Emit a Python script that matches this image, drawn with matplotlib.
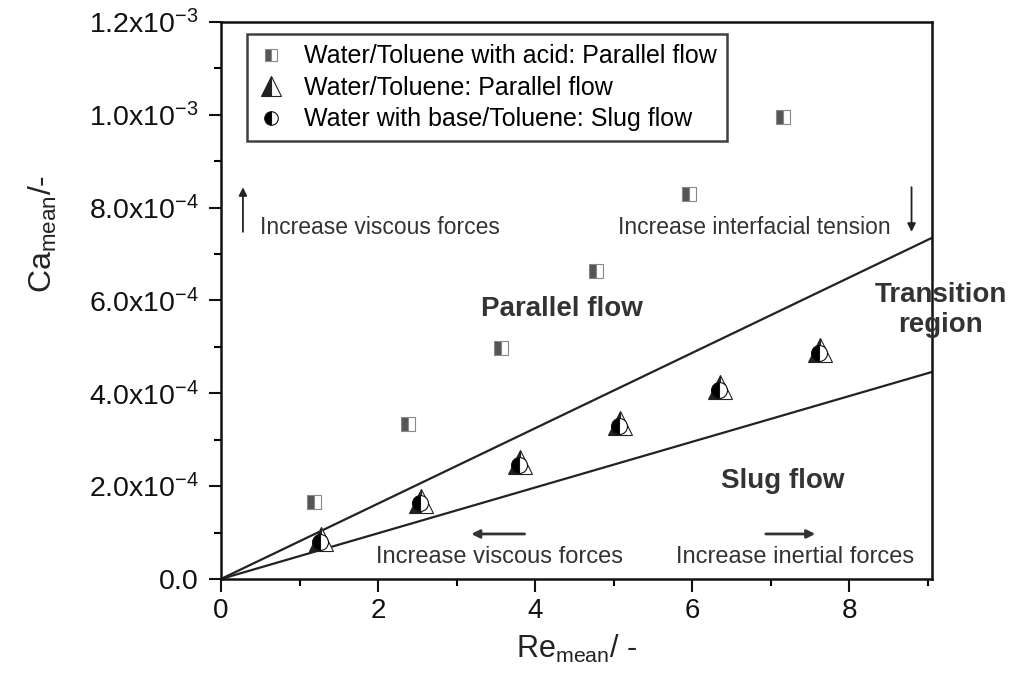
import matplotlib
matplotlib.use("Agg")
import matplotlib.pyplot as plt

plt.rcParams['font.family'] = ['Liberation Sans', 'DejaVu Sans']
plt.rcParams['mathtext.default'] = 'regular'

# data
re_acid = [1.19, 2.38, 3.57, 4.77, 5.96, 7.15]
ca_acid = [1.66e-4, 3.33e-4, 4.97e-4, 6.63e-4, 8.29e-4, 9.95e-4]

re_tol = [1.27, 2.54, 3.81, 5.08, 6.35, 7.62]
ca_tol = [0.86e-4, 1.69e-4, 2.52e-4, 3.35e-4, 4.14e-4, 4.93e-4]

re_base = [1.26, 2.53, 3.80, 5.07, 6.34, 7.61]
ca_base = [0.80e-4, 1.63e-4, 2.46e-4, 3.29e-4, 4.08e-4, 4.87e-4]

line_x = [0, 9.05]
upper_y = [0, 7.35e-4]
lower_y = [0, 4.46e-4]

yticks = [0, 2e-4, 4e-4, 6e-4, 8e-4, 1.0e-3, 1.2e-3]
ylabels = ['0.0', '2.0x10$^{-4}$', '4.0x10$^{-4}$', '6.0x10$^{-4}$',
           '8.0x10$^{-4}$', '1.0x10$^{-3}$', '1.2x10$^{-3}$']
xticks = [0, 2, 4, 6, 8]

fig = plt.figure(figsize=(10.14, 6.79), dpi=100)
ax = fig.add_axes([0.2179, 0.1473, 0.7012, 0.8203])

ax.plot(line_x, upper_y, color='#222222', lw=1.6)
ax.plot(line_x, lower_y, color='#222222', lw=1.6)

ax.plot(re_acid, ca_acid, ls='none', marker='s', ms=10.5, fillstyle='left',
        mfc='#555555', mfcalt='white', mec='#888888', mew=0.8,
        label='Water/Toluene with acid: Parallel flow')
ax.plot(re_tol, ca_tol, ls='none', marker='^', ms=17, fillstyle='left',
        mfc='#222222', mfcalt='white', mec='#222222', mew=0.8,
        label='Water/Toluene: Parallel flow')
ax.plot(re_base, ca_base, ls='none', marker='o', ms=11.5, fillstyle='left',
        mfc='black', mfcalt='white', mec='#111111', mew=0.8,
        label='Water with base/Toluene: Slug flow')

ax.set_xlim(0, 9.05)
ax.set_ylim(0, 1.2e-3)
ax.set_xticks(xticks)
ax.set_xticks([1, 3, 5, 7, 9], minor=True)
ax.set_yticks(yticks)
ax.set_yticklabels(ylabels)
ax.set_yticks([1e-4, 3e-4, 5e-4, 7e-4, 9e-4, 1.1e-3], minor=True)
ax.tick_params(axis='both', which='major', direction='out', length=9, width=1.5,
               labelsize=20.5, colors='#111111', pad=7)
ax.tick_params(axis='both', which='minor', direction='out', length=5, width=1.5)
ax.tick_params(axis='x', labelsize=20, pad=5)
for s in ax.spines.values():
    s.set_linewidth(1.8)
    s.set_color('#111111')

ax.set_ylabel('Ca$_{mean}$/-', fontsize=23, color='#222222')
ax.yaxis.set_label_coords(-0.228, 0.62)
ax.set_xlabel('Re$_{mean}$/ -', fontsize=22, labelpad=6, color='#222222')

leg = ax.legend(loc='upper left', bbox_to_anchor=(0.0366, 0.978), borderaxespad=0,
                fontsize=18, frameon=True, fancybox=False, handlelength=1.1,
                handletextpad=0.8, borderpad=0.4, labelspacing=0.3,
                markerscale=0.85)
leg.get_frame().set_edgecolor('#111111')
leg.get_frame().set_linewidth(1.8)

tc = '#333333'
ax.text(4.34, 5.82e-4, 'Parallel flow', fontsize=20, fontweight='bold',
        ha='center', va='center', color=tc)
ax.text(7.15, 2.11e-4, 'Slug flow', fontsize=20, fontweight='bold',
        ha='center', va='center', color=tc)
ax.text(9.16, 5.8e-4, 'Transition\nregion', fontsize=20, fontweight='bold',
        ha='center', va='center', color=tc, linespacing=1.2, clip_on=False)

ax.text(0.5, 7.58e-4, 'Increase viscous forces', fontsize=16.5,
        ha='left', va='center', color=tc)
ax.annotate('', xy=(0.28, 8.5e-4), xytext=(0.28, 7.42e-4),
            arrowprops=dict(arrowstyle='-|>', color='#222222', lw=1.3,
                            mutation_scale=12))
ax.text(5.06, 7.58e-4, 'Increase interfacial tension', fontsize=16.5,
        ha='left', va='center', color=tc)
ax.annotate('', xy=(8.79, 7.42e-4), xytext=(8.79, 8.5e-4),
            arrowprops=dict(arrowstyle='-|>', color='#222222', lw=1.3,
                            mutation_scale=12))

ax.text(3.55, 0.47e-4, 'Increase viscous forces', fontsize=17,
        ha='center', va='center', color=tc)
ax.annotate('', xy=(3.15, 0.97e-4), xytext=(3.9, 0.97e-4),
            arrowprops=dict(arrowstyle='-|>', color='#333333', lw=2.0,
                            mutation_scale=12))
ax.text(7.31, 0.47e-4, 'Increase inertial forces', fontsize=17,
        ha='center', va='center', color=tc)
ax.annotate('', xy=(7.6, 0.97e-4), xytext=(6.9, 0.97e-4),
            arrowprops=dict(arrowstyle='-|>', color='#333333', lw=2.0,
                            mutation_scale=12))

fig.savefig('out.png', dpi=100)
